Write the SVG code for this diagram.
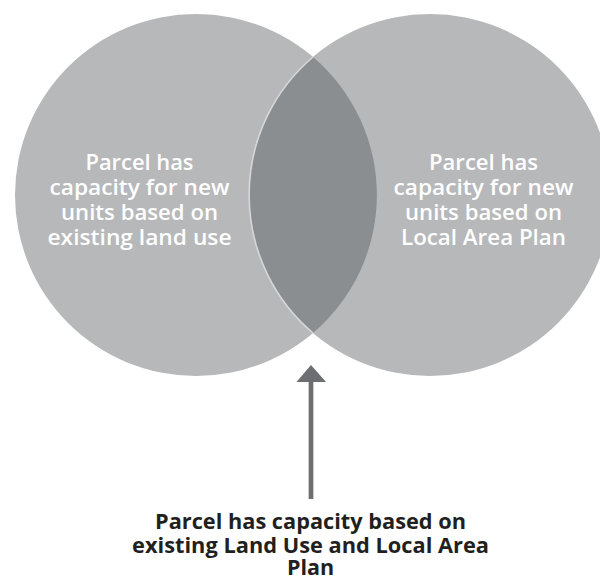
<svg xmlns="http://www.w3.org/2000/svg" width="600" height="579" viewBox="0 0 600 579">
<style>
.circle{fill:#b7b8ba;}
.lens{fill:#8b8e91;}
.rim{fill:none;stroke:#d6d7d9;stroke-width:1.6;}
.inner{font-family:"Open Sans","Liberation Sans",sans-serif;font-weight:600;font-size:22px;fill:#ffffff;text-anchor:middle;}
.caption{font-family:"Open Sans","Liberation Sans",sans-serif;font-weight:700;font-size:21.5px;fill:#231f20;text-anchor:middle;}
.arrow{stroke:#6d6e71;stroke-width:4.7;fill:none;}
.head{fill:#6d6e71;}
</style>
<rect width="600" height="579" fill="#ffffff"/>
<g id="left-set">
<circle class="circle" cx="196" cy="195" r="181"/>
</g>
<g id="right-set">
<circle class="circle" cx="430" cy="195" r="181"/>
</g>
<g id="intersection">
<path class="lens" d="M313,57 A181,181 0 0,0 313,333 A181,181 0 0,0 313,57 Z"/>
<path class="rim" d="M313,57 A181,181 0 0,0 313,333"/>
</g>
<g id="left-label">
<text class="inner" x="139.5" y="170" textLength="108" lengthAdjust="spacingAndGlyphs">Parcel has</text>
<text class="inner" x="139.5" y="195" textLength="180" lengthAdjust="spacingAndGlyphs">capacity for new</text>
<text class="inner" x="139.5" y="220" textLength="157" lengthAdjust="spacingAndGlyphs">units based on</text>
<text class="inner" x="139.5" y="245" textLength="184" lengthAdjust="spacingAndGlyphs">existing land use</text>
</g>
<g id="right-label">
<text class="inner" x="483.5" y="170" textLength="109" lengthAdjust="spacingAndGlyphs">Parcel has</text>
<text class="inner" x="483.5" y="195" textLength="180" lengthAdjust="spacingAndGlyphs">capacity for new</text>
<text class="inner" x="483.5" y="220" textLength="157" lengthAdjust="spacingAndGlyphs">units based on</text>
<text class="inner" x="483.5" y="245" textLength="165" lengthAdjust="spacingAndGlyphs">Local Area Plan</text>
</g>
<g id="connectors">
<line class="arrow" x1="311" y1="499" x2="311" y2="380"/>
<polygon class="head" points="311,365 326,382 296.5,382"/>
</g>
<g id="caption">
<text class="caption" x="310.5" y="529" textLength="311" lengthAdjust="spacingAndGlyphs">Parcel has capacity based on</text>
<text class="caption" x="310.5" y="553" textLength="357" lengthAdjust="spacingAndGlyphs">existing Land Use and Local Area</text>
<text class="caption" x="310.5" y="575">Plan</text>
</g>
</svg>
